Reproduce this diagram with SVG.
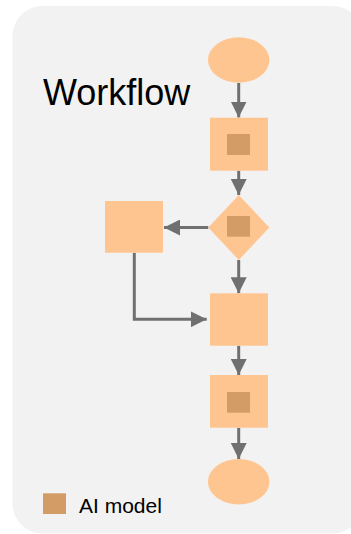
<svg xmlns="http://www.w3.org/2000/svg" width="351" height="534" viewBox="0 0 351 534">
<style>
.node{fill:#ffc591}
.ai{fill:#d39c66}
.edge{stroke:#707070;stroke-width:3;fill:none}
text{font-family:"Liberation Sans",Arial,sans-serif;fill:#000}
</style>
<defs>
<marker id="arr" markerUnits="userSpaceOnUse" markerWidth="16" markerHeight="16" viewBox="0 0 15 15" refX="15" refY="7.5" orient="auto">
<path d="M0,0 L15,7.5 L0,15 Z" fill="#707070"/>
</marker>
</defs>
<rect x="12.5" y="6" width="350" height="527.5" rx="30" fill="#f2f2f2"/>
<text x="43" y="105" font-size="36">Workflow</text>
<g id="connectors">
<line class="edge" x1="238.7" y1="83" x2="238.7" y2="117.5" marker-end="url(#arr)"/>
<line class="edge" x1="238.7" y1="170.7" x2="238.7" y2="195" marker-end="url(#arr)"/>
<line class="edge" x1="208.3" y1="227.5" x2="164" y2="227.5" marker-end="url(#arr)"/>
<line class="edge" x1="238.7" y1="260" x2="238.7" y2="293.3" marker-end="url(#arr)"/>
<polyline class="edge" points="134.3,252.7 134.3,319.3 206.7,319.3" marker-end="url(#arr)"/>
<line class="edge" x1="238.7" y1="345.7" x2="238.7" y2="375" marker-end="url(#arr)"/>
<line class="edge" x1="238.7" y1="427.7" x2="238.7" y2="459" marker-end="url(#arr)"/>
</g>
<g id="start"><ellipse class="node" cx="238.7" cy="60" rx="30.7" ry="22.7"/></g>
<g id="step1"><rect class="node" x="210" y="117.7" width="58" height="53"/><rect class="ai" x="227" y="134" width="23" height="21"/></g>
<g id="decision"><polygon class="node" points="238.8,195 269.3,227.5 238.8,260 208.3,227.5"/><rect class="ai" x="227" y="216" width="23" height="20.7"/></g>
<g id="side"><rect class="node" x="105" y="201" width="58" height="51.7"/></g>
<g id="step2"><rect class="node" x="210" y="293.3" width="58" height="52.4"/></g>
<g id="step3"><rect class="node" x="210" y="375" width="58" height="52.7"/><rect class="ai" x="227" y="392" width="23" height="20.7"/></g>
<g id="end"><ellipse class="node" cx="238.7" cy="481.7" rx="30.8" ry="22.7"/></g>
<g id="legend"><rect class="ai" x="43" y="493.3" width="23" height="20.7"/><text x="79" y="512.7" font-size="21">AI model</text></g>
</svg>
